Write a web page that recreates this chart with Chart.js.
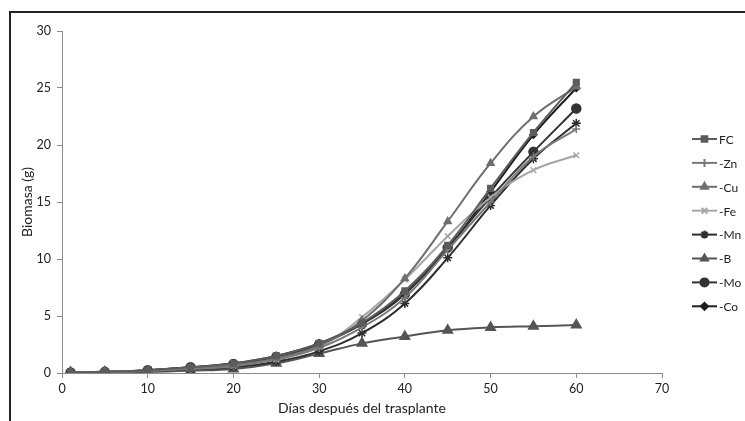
<!DOCTYPE html>
<html>
<head>
<meta charset="utf-8">
<script src="https://cdn.jsdelivr.net/npm/chart.js@4.4.0/dist/chart.umd.min.js"></script>
<style>
    body { margin: 0; background: #fff; }
    #wrap { position: relative; width: 745px; height: 421px; overflow: hidden; }
    #frame { position: absolute; left: 9px; top: 11px; width: 900px; height: 600px;
             border-left: 2px solid #222; border-top: 2px solid #222; }
    canvas { position: absolute; left: 0; top: 0; }
</style>
</head>
<body>
<div id="wrap">
    <div id="frame"></div>
    <canvas id="bioChart" width="745" height="421"></canvas>
</div>
<script>
// Días después del trasplante
const days = [1, 5, 10, 15, 20, 25, 30, 35, 40, 45, 50, 55, 60];

// Biomasa (g) por tratamiento
const fcValues = [0.05, 0.1, 0.25, 0.5, 0.85, 1.5, 2.6, 4.4, 7.2, 11.2, 16.2, 21.1, 25.5];
const znValues = [0.05, 0.08, 0.18, 0.35, 0.6, 1.2, 2.2, 4.0, 6.6, 10.8, 15.0, 19.0, 21.4];
const cuValues = [0.05, 0.1, 0.2, 0.45, 0.7, 1.3, 2.4, 4.6, 8.3, 13.3, 18.4, 22.5, 25.1];
const feValues = [0.05, 0.1, 0.2, 0.4, 0.65, 1.2, 2.3, 4.9, 8.2, 12.0, 15.4, 17.8, 19.1];
const mnValues = [0.05, 0.07, 0.15, 0.3, 0.5, 1.0, 1.9, 3.5, 6.1, 10.1, 14.7, 18.8, 21.9];
const bValues  = [0.05, 0.08, 0.1, 0.2, 0.35, 0.85, 1.7, 2.6, 3.2, 3.75, 4.0, 4.1, 4.2];
const moValues = [0.05, 0.1, 0.25, 0.5, 0.8, 1.4, 2.5, 4.3, 6.9, 11.0, 15.4, 19.4, 23.2];
const coValues = [0.05, 0.1, 0.25, 0.5, 0.85, 1.5, 2.6, 4.3, 7.0, 10.9, 15.9, 20.9, 25.0];

const seriesNames = ['FC', '-Zn', '-Cu', '-Fe', '-Mn', '-B', '-Mo', '-Co'];
const xTicks = [0, 10, 20, 30, 40, 50, 60, 70];
const yTicks = [0, 5, 10, 15, 20, 25, 30];

const FONT = 'Lato, "Open Sans", sans-serif';

function toPoints(values) {
    return values.map((v, i) => ({ x: days[i], y: v }));
}

function makeSet(label, values, color, style, radius) {
    return {
        label: label,
        data: toPoints(values),
        borderColor: color,
        backgroundColor: color,
        pointBackgroundColor: color,
        pointBorderColor: color,
        borderWidth: 2,
        pointStyle: style,
        pointRadius: radius,
        pointBorderWidth: 1.5,
        tension: 0.4,
        fill: false
    };
}

const datasets = [
    makeSet(seriesNames[0], fcValues, '#5c5c5c', 'rect', 4),
    makeSet(seriesNames[1], znValues, '#7a7a7a', 'cross', 4),
    makeSet(seriesNames[2], cuValues, '#6e6e6e', 'triangle', 4),
    makeSet(seriesNames[3], feValues, '#a6a6a6', 'crossRot', 4),
    makeSet(seriesNames[4], mnValues, '#2e2e2e', 'star', 4.5),
    makeSet(seriesNames[5], bValues, '#555555', 'triangle', 5.5),
    makeSet(seriesNames[6], moValues, '#333333', 'circle', 4.5),
    makeSet(seriesNames[7], coValues, '#1e1e1e', 'rectRot', 3.5)
];

// legend drawn with line + marker, like the original
const lineLegend = {
    id: 'lineLegend',
    afterDraw(chart) {
        const ctx = chart.ctx;
        const x0 = chart.chartArea.right + 30;
        const y0 = 139;
        ctx.save();
        chart.data.datasets.forEach((ds, i) => {
            const y = y0 + i * 23.9;
            ctx.strokeStyle = ds.borderColor;
            ctx.lineWidth = 2;
            ctx.beginPath();
            ctx.moveTo(x0, y);
            ctx.lineTo(x0 + 25, y);
            ctx.stroke();
            ctx.fillStyle = ds.borderColor;
            Chart.helpers.drawPoint(ctx, {
                pointStyle: ds.pointStyle,
                radius: Math.min(ds.pointRadius, 4),
                borderWidth: 1.5,
                rotation: 0
            }, x0 + 12.5, y);
            ctx.fillStyle = '#222';
            ctx.font = '12px ' + FONT;
            ctx.textAlign = 'left';
            ctx.textBaseline = 'middle';
            ctx.fillText(ds.label, x0 + 27, y + 1);
        });
        ctx.restore();
    }
};

new Chart(document.getElementById('bioChart').getContext('2d'), {
    type: 'line',
    data: { datasets: datasets },
    options: {
        responsive: false,
        animation: false,
        layout: { padding: { left: 0, top: 31, right: 83, bottom: 0 } },
        plugins: {
            legend: { display: false },
            tooltip: { enabled: false }
        },
        scales: {
            x: {
                type: 'linear',
                min: 0,
                max: 70,
                afterFit: (scale) => { scale.height = 48; },
                afterBuildTicks: (scale) => { scale.ticks = xTicks.map(v => ({ value: v })); },
                border: { color: '#8c8c8c', width: 1 },
                grid: { drawOnChartArea: false, drawTicks: true, tickLength: 5, color: '#8c8c8c' },
                ticks: { color: '#222', font: { family: FONT, size: 12.5 }, padding: 3, maxRotation: 0 },
                title: {
                    display: true,
                    text: 'Días después del trasplante',
                    color: '#222',
                    font: { family: FONT, size: 14 },
                    padding: { top: 0, bottom: 4.5 }
                }
            },
            y: {
                min: 0,
                max: 30,
                afterFit: (scale) => { scale.width = 62; },
                afterBuildTicks: (scale) => { scale.ticks = yTicks.map(v => ({ value: v })); },
                border: { color: '#8c8c8c', width: 1 },
                grid: { drawOnChartArea: false, drawTicks: true, tickLength: 5, color: '#8c8c8c' },
                ticks: { color: '#222', font: { family: FONT, size: 12.5 }, padding: 6 },
                title: {
                    display: true,
                    text: 'Biomasa (g)',
                    color: '#222',
                    font: { family: FONT, size: 14 },
                    padding: { top: 19.5, bottom: 0 }
                }
            }
        }
    },
    plugins: [lineLegend]
});
</script>
</body>
</html>
